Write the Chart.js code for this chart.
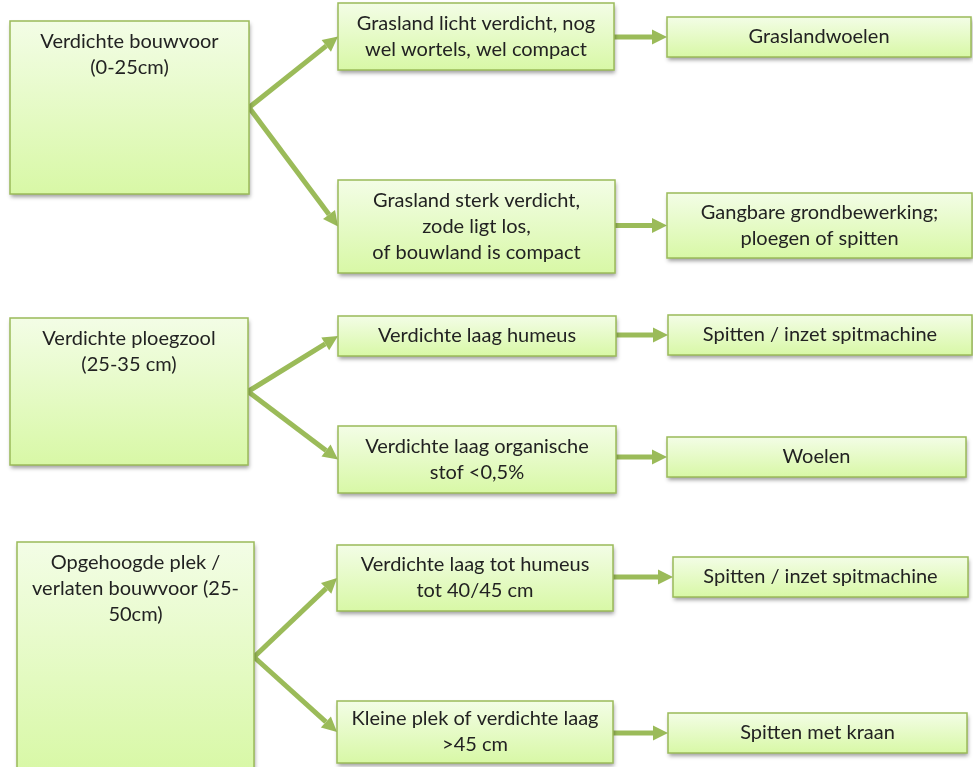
<!DOCTYPE html>
<html>
<head>
<meta charset="utf-8">
<script src="https://cdn.jsdelivr.net/npm/chart.js@4.4.1/dist/chart.umd.min.js"></script>
<style>
  html, body { margin: 0; padding: 0; background: #ffffff; }
  #wrap { width: 973px; height: 767px; }
</style>
</head>
<body>
<div id="wrap"><canvas id="flowChart" width="973" height="767"></canvas></div>
<script>
// content of the diagram
const groupTitles = [
  "Verdichte bouwvoor\n(0-25cm)",
  "Verdichte ploegzool\n(25-35 cm)",
  "Opgehoogde plek /\nverlaten bouwvoor (25-\n50cm)",
];
const conditionTexts = [
  "Grasland licht verdicht, nog\nwel wortels, wel compact",
  "Grasland sterk verdicht,\nzode ligt los,\nof bouwland is compact",
  "Verdichte laag humeus",
  "Verdichte laag organische\nstof <0,5%",
  "Verdichte laag tot humeus\ntot 40/45 cm",
  "Kleine plek of verdichte laag\n>45 cm",
];
const actionTexts = [
  "Graslandwoelen",
  "Gangbare grondbewerking;\nploegen of spitten",
  "Spitten / inzet spitmachine",
  "Woelen",
  "Spitten / inzet spitmachine",
  "Spitten met kraan",
];
const conditionGroup = [0, 0, 1, 1, 2, 2];

// layout, in axis units: [left, top, right, bottom]
const rootBoxes = [
  [10, 21, 249, 194],
  [10, 318, 248, 465],
  [17, 542, 254, 772],
];
const conditionBoxes = [
  [338, 3, 614, 70],
  [338, 180, 615, 273],
  [338, 316, 616, 356],
  [338, 426, 616, 493],
  [337, 545, 613, 611],
  [337, 701, 613, 763],
];
const actionBoxes = [
  [667, 17, 971, 57],
  [667, 193, 972, 258],
  [668, 315, 972, 355],
  [667, 437, 966, 477],
  [673, 557, 968, 597],
  [668, 713, 967, 753],
];

const GREEN = "#9bbb59";
const TEXT = "#222222";
const FONT = "20px Lato, 'Open Sans', sans-serif";
const LINE_H = 26;

function toPx(chart, box) {
  const x = chart.scales.x;
  const y = chart.scales.y;
  const l = x.getPixelForValue(box[0]);
  const t = y.getPixelForValue(box[1]);
  const r = x.getPixelForValue(box[2]);
  const b = y.getPixelForValue(box[3]);
  return { l, t, r, b, w: r - l, h: b - t };
}

function drawBox(ctx, p) {
  ctx.save();
  ctx.shadowColor = "rgba(0,0,0,0.38)";
  ctx.shadowBlur = 4;
  ctx.shadowOffsetX = 1;
  ctx.shadowOffsetY = 2.5;
  const grad = ctx.createLinearGradient(0, p.t, 0, p.b);
  grad.addColorStop(0, "#f3fde6");
  grad.addColorStop(1, "#d8f8a6");
  ctx.fillStyle = grad;
  ctx.fillRect(p.l, p.t, p.w, p.h);
  ctx.restore();
  ctx.strokeStyle = GREEN;
  ctx.lineWidth = 1.5;
  ctx.strokeRect(p.l, p.t, p.w, p.h);
}

function drawText(ctx, text, cx, firstY) {
  ctx.fillStyle = TEXT;
  ctx.font = FONT;
  ctx.textAlign = "center";
  ctx.textBaseline = "middle";
  text.split("\n").forEach((line, i) => {
    ctx.fillText(line, cx, firstY + i * LINE_H);
  });
}

function drawArrow(ctx, x1, y1, x2, y2) {
  const ang = Math.atan2(y2 - y1, x2 - x1);
  const headLen = 15;
  const headW = 7.5;
  const bx = x2 - headLen * Math.cos(ang);
  const by = y2 - headLen * Math.sin(ang);
  ctx.save();
  ctx.strokeStyle = GREEN;
  ctx.fillStyle = GREEN;
  ctx.lineWidth = 5;
  ctx.lineCap = "butt";
  ctx.beginPath();
  ctx.moveTo(x1, y1);
  ctx.lineTo(bx, by);
  ctx.stroke();
  ctx.beginPath();
  ctx.moveTo(x2, y2);
  ctx.lineTo(bx + headW * Math.sin(ang), by - headW * Math.cos(ang));
  ctx.lineTo(bx - headW * Math.sin(ang), by + headW * Math.cos(ang));
  ctx.closePath();
  ctx.fill();
  ctx.restore();
}

const flowPlugin = {
  id: "flow",
  afterDatasetsDraw(chart) {
    const ctx = chart.ctx;

    // arrows first, boxes drawn over their ends
    conditionTexts.forEach((_, i) => {
      const root = toPx(chart, rootBoxes[conditionGroup[i]]);
      const cond = toPx(chart, conditionBoxes[i]);
      const act = toPx(chart, actionBoxes[i]);
      drawArrow(ctx, root.r, root.t + root.h / 2, cond.l, cond.t + cond.h / 2);
      drawArrow(ctx, cond.r, act.t + act.h / 2, act.l, act.t + act.h / 2);
    });

    groupTitles.forEach((text, i) => {
      const p = toPx(chart, rootBoxes[i]);
      drawBox(ctx, p);
      drawText(ctx, text, p.l + p.w / 2, p.t + 21);
    });

    conditionTexts.forEach((text, i) => {
      const p = toPx(chart, conditionBoxes[i]);
      drawBox(ctx, p);
      const n = text.split("\n").length;
      drawText(ctx, text, p.l + p.w / 2, p.t + p.h / 2 - ((n - 1) * LINE_H) / 2);
    });

    actionTexts.forEach((text, i) => {
      const p = toPx(chart, actionBoxes[i]);
      drawBox(ctx, p);
      const n = text.split("\n").length;
      drawText(ctx, text, p.l + p.w / 2, p.t + p.h / 2 - ((n - 1) * LINE_H) / 2);
    });
  },
};

new Chart(document.getElementById("flowChart"), {
  type: "scatter",
  data: { datasets: [] },
  options: {
    responsive: false,
    animation: false,
    events: [],
    layout: { padding: 0 },
    plugins: {
      legend: { display: false },
      tooltip: { enabled: false },
    },
    scales: {
      x: { type: "linear", min: 0, max: 973, display: false },
      y: { type: "linear", min: 0, max: 767, reverse: true, display: false },
    },
  },
  plugins: [flowPlugin],
});
</script>
</body>
</html>
